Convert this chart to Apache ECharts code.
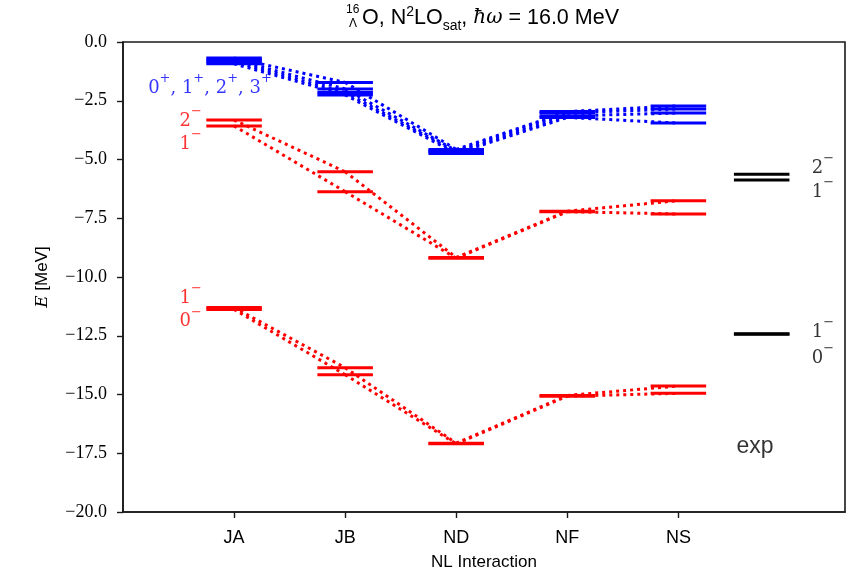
<!DOCTYPE html>
<html>
<head>
<meta charset="utf-8">
<script src="https://cdn.jsdelivr.net/npm/echarts@6/dist/echarts.min.js"></script>
<style>
html,body{margin:0;padding:0;background:#fff;}
#chart{width:853px;height:576px;}
</style>
</head>
<body>
<div id="chart"></div>
<script>
// ---------------- data ----------------
const interactions = ['JA', 'JB', 'ND', 'NF', 'NS'];
const yTickValues = [0, -2.5, -5, -7.5, -10, -12.5, -15, -17.5, -20];

// positive-parity states (blue): 0+, 1+, 2+, 3+
const E_0p = [-0.68, -1.72, -4.57, -2.96, -2.72];
const E_1p = [-0.76, -2.00, -4.63, -3.02, -2.85];
const E_2p = [-0.84, -2.15, -4.68, -3.15, -3.02];
const E_3p = [-0.93, -2.25, -4.74, -3.21, -3.45];

// negative-parity doublet (upper, red): 2-, 1-
const E_2m_up = [-3.32, -5.52, -9.17, -7.20, -6.75];
const E_1m_up = [-3.57, -6.37, -9.20, -7.22, -7.32];

// negative-parity doublet (lower, red): 1-, 0-
const E_1m_lo = [-11.30, -13.86, -17.07, -15.04, -14.64];
const E_0m_lo = [-11.38, -14.16, -17.10, -15.07, -14.95];

// experiment (black)
const expPos = 4.75;
const E_exp = [-5.63, -5.87, -12.41, -12.44];

// level annotations
const annotations = [
  {parts: [['0','+'],[', 1','+'],[', 2','+'],[', 3','+']], x: 0.34, y: -1.83, color: '#0000ff', side: 'left'},
  {parts: [['2','\u2212']], x: -0.29, y: -3.23, color: '#ff0000', side: 'left'},
  {parts: [['1','\u2212']], x: -0.29, y: -4.20, color: '#ff0000', side: 'left'},
  {parts: [['1','\u2212']], x: -0.29, y: -10.77, color: '#ff0000', side: 'left'},
  {parts: [['0','\u2212']], x: -0.29, y: -11.75, color: '#ff0000', side: 'left'},
  {parts: [['2','\u2212']], x: 5.2, y: -5.23, color: '#000000', side: 'right'},
  {parts: [['1','\u2212']], x: 5.2, y: -6.26, color: '#000000', side: 'right'},
  {parts: [['1','\u2212']], x: 5.2, y: -12.21, color: '#000000', side: 'right'},
  {parts: [['0','\u2212']], x: 5.2, y: -13.32, color: '#000000', side: 'right'}
];
const expLabel = {text: 'exp', x: 4.69, y: -17.23};

// ---------------- series ----------------
const halfW = 0.25;
const series = [];
function addState(vals, color) {
  vals.forEach((v, i) => {
    series.push({
      type: 'line', symbol: 'none', silent: true, z: 3, animation: false,
      data: [[i - halfW, v], [i + halfW, v]],
      lineStyle: {color: color, width: 3, type: 'solid', cap: 'butt'}
    });
    if (i < vals.length - 1) {
      series.push({
        type: 'line', symbol: 'none', silent: true, z: 2, animation: false,
        data: [[i, v], [i + 1, vals[i + 1]]],
        lineStyle: {color: color, width: 3, type: [3, 4], cap: 'butt'}
      });
    }
  });
}
[E_0p, E_1p, E_2p, E_3p].forEach(s => addState(s, '#0000ff'));
[E_2m_up, E_1m_up, E_1m_lo, E_0m_lo].forEach(s => addState(s, '#ff0000'));
E_exp.forEach(v => {
  series.push({
    type: 'line', symbol: 'none', silent: true, z: 3, animation: false,
    data: [[expPos - halfW, v], [expPos + halfW, v]],
    lineStyle: {color: '#000', width: 3, type: 'solid', cap: 'butt'}
  });
});

const richLab = {
  n: {fontFamily: 'DejaVu Serif', fontSize: 18, lineHeight: 25, verticalAlign: 'bottom'},
  s: {fontFamily: 'DejaVu Serif', fontSize: 13, lineHeight: 25, verticalAlign: 'top'}
};
function richFor(color) {
  const r = {};
  Object.keys(richLab).forEach(k => { r[k] = Object.assign({}, richLab[k], {color: color}); });
  return r;
}
annotations.forEach(a => {
  const txt = a.parts.map(p => '{n|' + p[0] + '}{s|' + p[1] + '}').join('');
  series.push({
    type: 'scatter', symbolSize: 0, silent: true, z: 5, animation: false,
    data: [[a.x, a.y]],
    label: {show: true, position: a.side, distance: 0, formatter: txt, rich: richFor(a.color)}
  });
});
series.push({
  type: 'scatter', symbolSize: 0, silent: true, z: 5, animation: false,
  data: [[expLabel.x, expLabel.y]],
  label: {show: true, position: 'inside', formatter: expLabel.text,
    fontFamily: 'Liberation Sans', fontSize: 23, color: '#000', textBorderWidth: 0}
});

// ---------------- chart ----------------
const chart = echarts.init(document.getElementById('chart'), null, {renderer: 'canvas'});
chart.setOption({
  animation: false,
  backgroundColor: '#fff',
  grid: {left: 123, right: 8, top: 42, bottom: 64, show: true, borderColor: '#1a1a1a', borderWidth: 1.6, containLabel: false},
  graphic: [
    {type: 'text', left: 346, top: 4, style: {text: '16', font: '12px "Liberation Sans"', fill: '#000'}},
    {type: 'text', left: 349, top: 18, style: {text: '\u039B', font: '12px "Liberation Sans"', fill: '#000'}},
    {type: 'text', left: 362, top: 3, style: {
      text: '{n|O, N}{sup|2}{n|LO}{sub|sat}{n|, }{m|\u0127\u03C9}{n| = 16.0 MeV}',
      rich: {
        n: {fontFamily: 'Liberation Sans', fontSize: 21.5, lineHeight: 30, fill: '#000', verticalAlign: 'middle'},
        sup: {fontFamily: 'Liberation Sans', fontSize: 14, lineHeight: 30, fill: '#000', verticalAlign: 'top', padding: [2,0,0,0]},
        sub: {fontFamily: 'Liberation Sans', fontSize: 14, lineHeight: 30, fill: '#000', verticalAlign: 'bottom'},
        m: {fontFamily: 'DejaVu Serif', fontStyle: 'italic', fontSize: 20, lineHeight: 30, fill: '#000', verticalAlign: 'middle'}
      }
    }}
  ],
  xAxis: {
    type: 'value', min: -1, max: 5.5,
    name: 'NL Interaction', nameLocation: 'middle', nameGap: 42,
    nameTextStyle: {fontFamily: 'Liberation Sans', fontSize: 17, color: '#000'},
    axisLine: {show: true, onZero: false, lineStyle: {color: '#1a1a1a', width: 1.6}},
    axisTick: {show: true, customValues: [0, 1, 2, 3, 4], length: 6, lineStyle: {color: '#1a1a1a', width: 1.4}},
    axisLabel: {show: true, customValues: [0, 1, 2, 3, 4], margin: 17,
      formatter: v => interactions[Math.round(v)] || '',
      fontFamily: 'Liberation Sans', fontSize: 18, color: '#000'},
    splitLine: {show: false}
  },
  yAxis: {
    type: 'value', min: -20, max: 0, interval: 2.5,
    name: '{i|E} [MeV]', nameLocation: 'middle', nameGap: 72,
    nameTextStyle: {fontFamily: 'Liberation Sans', fontSize: 17, color: '#000',
      rich: {i: {fontFamily: 'DejaVu Serif', fontStyle: 'italic', fontSize: 17, color: '#000'}}},
    axisLine: {show: true, onZero: false, lineStyle: {color: '#1a1a1a', width: 1.6}},
    axisTick: {show: true, length: 6, lineStyle: {color: '#1a1a1a', width: 1.4}},
    axisLabel: {show: true, margin: 16,
      formatter: v => (v < 0 ? '\u2212' : '') + Math.abs(v).toFixed(1),
      fontFamily: 'Liberation Serif', fontSize: 18, color: '#000'},
    splitLine: {show: false}
  },
  series: series
});
</script>
</body>
</html>
